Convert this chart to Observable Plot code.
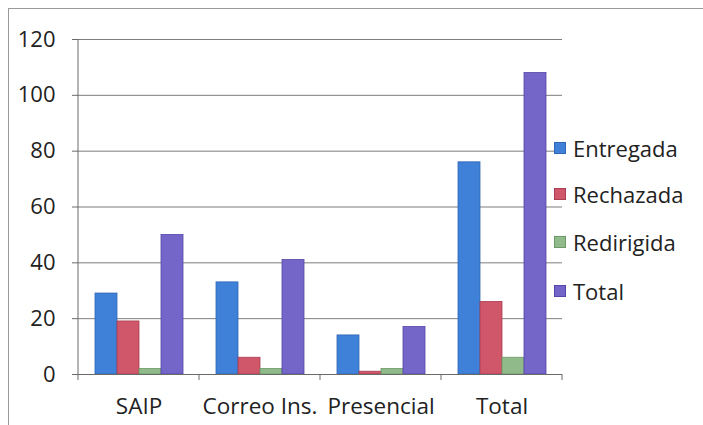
<!DOCTYPE html>
<html>
<head>
<meta charset="utf-8">
<script src="https://cdn.jsdelivr.net/npm/d3@7"></script>
<script src="https://cdn.jsdelivr.net/npm/@observablehq/plot@0.6"></script>
<style>
  html, body { margin: 0; padding: 0; background: #fff; overflow: hidden; }
  #wrap { position: relative; width: 703px; height: 425px; font-family: "Open Sans", sans-serif; overflow: hidden; }
  #border { position: absolute; left: 8px; top: 8px; width: 710px; height: 430px; border: 1px solid #9a9a9a; box-sizing: border-box; pointer-events: none; }
  #legend { position: absolute; left: 554px; top: 0; }
  .item { position: absolute; left: 0; display: flex; align-items: center; white-space: nowrap; font-size: 22px; color: #222; height: 28px; }
  .sw { width: 12px; height: 12px; margin-right: 7px; box-sizing: border-box; }
</style>
</head>
<body>
<div id="wrap">
  <div id="chart"></div>
  <div id="legend"></div>
  <div id="border"></div>
</div>
<script>
// ---- data ----
const categories = ["SAIP", "Correo Ins.", "Presencial", "Total"];
const series = ["Entregada", "Rechazada", "Redirigida", "Total"];
const entregada = [29, 33, 14, 76];
const rechazada = [19, 6, 1, 26];
const redirigida = [2, 2, 2, 6];
const total = [50, 41, 17, 108];
const yTicks = [0, 20, 40, 60, 80, 100, 120];

const fills = ["#3f80d8", "#d0566a", "#90ba8a", "#7465c8"];
const strokes = ["#2f66b5", "#a93e52", "#6d9a68", "#5546a8"];

const valuesBySeries = [entregada, rechazada, redirigida, total];
const rows = [];
categories.forEach((c, i) => {
  series.forEach((s, j) => {
    rows.push({category: c, series: s, value: valuesBySeries[j][i]});
  });
});
const strokeOf = new Map(series.map((s, j) => [s, strokes[j]]));

const chart = Plot.plot({
  width: 703,
  height: 425,
  marginLeft: 77,
  marginRight: 141,
  marginTop: 39,
  marginBottom: 51,
  style: {fontFamily: "'Open Sans', sans-serif", color: "#222", background: "transparent"},
  fx: {domain: categories, padding: 0, label: null},
  x: {domain: series, paddingInner: 0, paddingOuter: 0.75, axis: null},
  y: {domain: [0, 120], label: null},
  color: {domain: series, range: fills},
  marks: [
    Plot.gridY(yTicks, {stroke: "#7d7d7d", strokeOpacity: 1, strokeWidth: 1}),
    Plot.barY(rows, {
      fx: "category", x: "series", y: "value",
      fill: "series",
      stroke: d => strokeOf.get(d.series),
      strokeWidth: 0.8
    }),
    Plot.ruleY([0], {stroke: "#6a6a6a"}),
    Plot.axisY(yTicks, {tickSize: 6, tickPadding: 17, fontSize: 22, stroke: "#6a6a6a", label: null}),
    Plot.axisFx({anchor: "bottom", tickSize: 0, tickPadding: 24, fontSize: 22.5, label: null})
  ]
});
document.getElementById("chart").appendChild(chart);

// axis line and category boundary ticks, positioned through Plot's scales
const y = chart.scale("y");
const fx = chart.scale("fx");
const svg = d3.select(chart);
const g = svg.append("g").attr("stroke", "#6a6a6a").attr("stroke-width", 1);
const x0 = fx.apply(categories[0]);
g.append("line")
  .attr("x1", x0).attr("x2", x0)
  .attr("y1", y.apply(120)).attr("y2", y.apply(0));
const bounds = categories.map(c => fx.apply(c));
bounds.push(fx.apply(categories[categories.length - 1]) + fx.bandwidth);
bounds.forEach(b => {
  g.append("line").attr("x1", b).attr("x2", b)
    .attr("y1", y.apply(0)).attr("y2", y.apply(0) + 6);
});

// legend
const legendCenters = [148, 194, 242, 291];
const legend = document.getElementById("legend");
series.forEach((s, j) => {
  const item = document.createElement("div");
  item.className = "item";
  item.style.top = (legendCenters[j] - 14) + "px";
  const sw = document.createElement("div");
  sw.className = "sw";
  sw.style.background = fills[j];
  sw.style.border = "1px solid " + strokes[j];
  const label = document.createElement("span");
  label.textContent = s;
  item.appendChild(sw);
  item.appendChild(label);
  legend.appendChild(item);
});
</script>
</body>
</html>
